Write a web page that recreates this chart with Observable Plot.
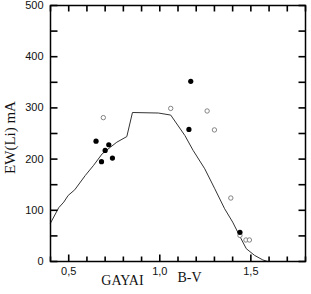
<!DOCTYPE html>
<html>
<head>
<meta charset="utf-8">
<script src="https://cdn.jsdelivr.net/npm/d3@7"></script>
<script src="https://cdn.jsdelivr.net/npm/@observablehq/plot@0.6"></script>
<style>
  html, body { margin: 0; padding: 0; background: #fff; }
</style>
</head>
<body>
<div id="chart"></div>
<script>
// Filled circles
const bvFilled = [0.65, 0.72, 0.70, 0.68, 0.74, 1.17, 1.16, 1.44];
const ewFilled = [235, 228, 217, 195, 202, 352, 258, 57];
// Open circles
const bvOpen = [0.69, 1.06, 1.26, 1.30, 1.39, 1.44, 1.473, 1.492];
const ewOpen = [281, 299, 294, 257, 124, 51, 42, 42];
// Curve
const curveBV = [0.40, 0.445, 0.473, 0.497, 0.533, 0.591, 0.637, 0.683, 0.728, 0.764, 0.819, 0.85, 0.992, 1.06, 1.138, 1.183, 1.247, 1.302, 1.356, 1.40, 1.447, 1.475, 1.52, 1.566, 1.593];
const curveEW = [75, 105, 116, 129, 140, 168, 188, 210, 223, 233, 244, 291, 290, 286, 246, 217, 181, 142, 103, 77, 44, 25, 12, 3, 0];
// Ticks
const xMajorTicks = [0.5, 1.0, 1.5];
const xMinorTicks = [0.4, 0.6, 0.7, 0.8, 0.9, 1.1, 1.2, 1.3, 1.4, 1.6, 1.7, 1.8];
const yLabelTicks = [0, 100, 200, 300, 400, 500];
const yAllTicks = [0, 50, 100, 150, 200, 250, 300, 350, 400, 450, 500];
const yTitle = "EW(Li) mA";
const xTitleLeft = "GAYAI";
const xTitleRight = "B-V";

const xDomain = [0.4, 1.8];
const yDomain = [0, 500];
const filled = bvFilled.map((x, i) => ({x, y: ewFilled[i]}));
const open = bvOpen.map((x, i) => ({x, y: ewOpen[i]}));
const curve = curveBV.map((x, i) => ({x, y: curveEW[i]}));
const xAll = [...xMajorTicks, ...xMinorTicks];
const fmt = d => d.toFixed(1).replace(".", ",");
const serif = "'Liberation Serif', 'DejaVu Serif', serif";
const W = 311, H = 294, mL = 50, mR = 6, mT = 5, mB = 33;

const tickStyle = {stroke: "#000", strokeWidth: 1.6};
// inward ticks with an explicit pixel length (custom symbol)
function inwardTicks(values, dim, side, len) {
  return Plot.dot(values, {
    [dim]: d => d,
    frameAnchor: side,
    symbol: {draw(ctx) {
      if (side === "bottom") { ctx.moveTo(0, 0); ctx.lineTo(0, -len); }
      if (side === "top") { ctx.moveTo(0, 0); ctx.lineTo(0, len); }
      if (side === "left") { ctx.moveTo(0, 0); ctx.lineTo(len, 0); }
      if (side === "right") { ctx.moveTo(0, 0); ctx.lineTo(-len, 0); }
    }},
    r: 1,
    fill: "none",
    ...tickStyle
  });
}

const chart = Plot.plot({
  width: W,
  height: H,
  marginLeft: mL,
  marginRight: mR,
  marginTop: mT,
  marginBottom: mB,
  style: {fontFamily: "'Liberation Sans', Arial, sans-serif", fontSize: "11px", background: "#fff", color: "#111"},
  x: {domain: xDomain, label: null},
  y: {domain: yDomain, label: null},
  marks: [
    Plot.line(curve, {x: "x", y: "y", stroke: "#333", strokeWidth: 1}),
    Plot.dot(open, {x: "x", y: "y", r: 2.2, stroke: "#777", strokeWidth: 0.9, fill: "white"}),
    Plot.dot(filled, {x: "x", y: "y", r: 2.6, fill: "#000", stroke: "none"}),
    Plot.axisX({anchor: "bottom", ticks: xMajorTicks, tickSize: 0, tickPadding: 6, tickFormat: fmt, fill: "#111"}),
    Plot.axisY({anchor: "left", ticks: yLabelTicks, tickSize: 0, tickPadding: 7, tickFormat: d => String(d), fill: "#111"}),
    Plot.frame({stroke: "#000", strokeWidth: 1.5}),
    inwardTicks(xMinorTicks, "x", "bottom", 5),
    inwardTicks(xMajorTicks, "x", "bottom", 7),
    inwardTicks(xAll, "x", "top", 6),
    inwardTicks(yAllTicks, "y", "left", 7),
    inwardTicks(yAllTicks, "y", "right", 7),
    Plot.text([yTitle], {text: d => d, frameAnchor: "left", textAnchor: "middle", dx: -40, dy: 4, rotate: -90, fontFamily: serif, fontSize: 15, letterSpacing: "0.5px", fill: "#111"}),
    Plot.text([xTitleLeft], {text: d => d, frameAnchor: "bottom-left", textAnchor: "middle", dx: 72, dy: 23, fontFamily: serif, fontSize: 14, letterSpacing: "1px", fill: "#111"}),
    Plot.text([xTitleRight], {text: d => d, frameAnchor: "bottom-left", textAnchor: "middle", dx: 139, dy: 20, fontFamily: serif, fontSize: 14, fill: "#111"})
  ]
});
document.getElementById("chart").appendChild(chart);
</script>
</body>
</html>
